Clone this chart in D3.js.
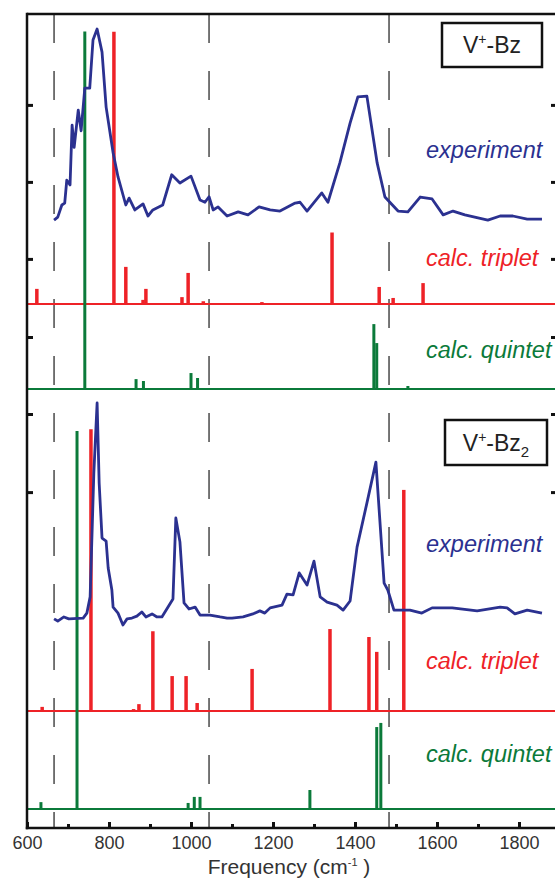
<!DOCTYPE html>
<html>
<head>
<meta charset="utf-8">
<script src="https://cdn.jsdelivr.net/npm/d3@7"></script>
<style>
  body { margin: 0; background: #fff; }
  svg { display: block; font-family: "Liberation Sans", Arial, sans-serif; }
</style>
</head>
<body>
<div class="gv-chart"></div>
<script>
// ---- data (frequency in cm-1, intensity in arbitrary units) ----
// V+-Bz
var bzExpFreq = [666,675,685,692,697,705,710,715,725,732,741,753,761,771,783,793,810,822,841,849,863,883,895,907,931,953,973,1000,1022,1034,1044,1054,1066,1088,1115,1139,1166,1193,1217,1254,1266,1283,1319,1334,1363,1388,1407,1429,1454,1473,1505,1529,1559,1588,1615,1639,1668,1724,1754,1785,1820,1856];
var bzExpInt  = [30.5,31.6,36,36.7,45,43.3,65,57,70.5,63,78.5,78.5,96,100,91.6,71.6,55,46.2,36,38.5,34.2,36.4,32,34.2,36,47,44,46.5,37.8,37,39,34.2,35.3,32,33.5,32.4,35.3,34.2,33.8,36.7,37,33.8,40.4,37,51.3,65.8,75.3,75.6,51.3,38.9,33.8,33.5,38.9,38.2,32.4,33.8,32.4,30.5,32,32,30.9,30.9];
var bzTripFreq = [624,812,841,883,890,978,993,1030,1173,1344,1459,1493,1566];
var bzTripInt  = [5.5,99,13.5,1.5,5.5,2.5,11.3,1,0.7,26,6.2,2.2,7.6];
var bzQuinFreq = [741,866,884,1000,1016,1446,1453,1529];
var bzQuinInt  = [130,3.6,2.9,5.8,4,23.6,16.7,1.1];

// V+-Bz2
var bz2ExpFreq = [666,675,690,702,737,746,754,763,771,776,783,793,798,807,810,822,834,844,856,868,880,890,905,917,929,944,956,963,973,983,995,1010,1022,1046,1071,1088,1100,1127,1151,1168,1180,1193,1222,1234,1249,1264,1283,1300,1315,1332,1356,1371,1388,1405,1429,1451,1471,1480,1495,1534,1563,1588,1637,1698,1754,1771,1790,1820,1856];
var bz2ExpInt  = [33.5,32.7,34.2,33.5,33.8,35.6,41.5,86.5,112,82.9,62.9,61.8,52,44,37.8,35.6,31.3,33.5,33.8,34.5,36,34.2,35.3,34.2,34.2,37.8,40.7,70.2,61.5,39.3,37.1,37.8,34.9,34.9,34.2,33.8,33.8,34.2,35.3,36.4,35.6,37.5,38.5,42.5,42.2,50.2,45.8,54.5,41.5,39.6,38.5,36.7,40,59.6,75.6,90.5,46.5,44,36.7,36.7,35.6,37.5,37.5,36.4,37.8,37.5,35.3,36.7,35.6];
var bz2TripFreq = [637,756,860,873,907,954,988,1015,1149,1339,1434,1453,1519];
var bz2TripInt  = [1.5,102.5,0.7,2.5,29,12.7,12.7,2.9,15.3,29.8,26.9,21.5,80.4];
var bz2QuinFreq = [634,722,993,1008,1022,1290,1453,1463];
var bz2QuinInt  = [2.5,137.5,2.2,4.4,4.4,6.9,29.8,31.3];

var xMajorTicks = [600,800,1000,1200,1400,1600,1800];
var xMinorTicks = [700,900,1100,1300,1500,1700];
var dashFreqs = [666,1044,1483];
var topYTicks = [16.4,44.4,72.4];
var lowYTicks = [79.6,108,136];

var blue = "#2b3190", red = "#ee2227", green = "#0b7a3a";

var width = 555, height = 879;
var plotTop = 14, plotBottom = 828, plotLeft = 27;

var x = d3.scaleLinear().domain([600, 1900]).range([plotLeft, plotLeft + 1300 * 0.41]);

function yAt(base) {
  return d3.scaleLinear().domain([0, 100]).range([base, base - 275]);
}
var yTopTrip = yAt(304), yTopQuin = yAt(389), yLowTrip = yAt(711), yLowQuin = yAt(809);

var svg = d3.select(".gv-chart").append("svg")
  .attr("width", width).attr("height", height);

// dashed reference lines
svg.selectAll(".gv-dash").data(dashFreqs).enter().append("line")
  .attr("class", "gv-dash")
  .attr("x1", function(d){ return x(d); }).attr("x2", function(d){ return x(d); })
  .attr("y1", plotTop).attr("y2", plotBottom)
  .attr("stroke", "#555").attr("stroke-width", 1.6)
  .attr("stroke-dasharray", "29,28");

function drawBaseline(scale, colour) {
  svg.append("line")
    .attr("x1", plotLeft).attr("x2", width + 5)
    .attr("y1", scale(0)).attr("y2", scale(0))
    .attr("stroke", colour).attr("stroke-width", 2.2);
}

function drawBars(freqs, ints, scale, colour, w) {
  var data = freqs.map(function(f, i){ return {f: f, v: ints[i]}; });
  svg.append("g").selectAll("line").data(data).enter().append("line")
    .attr("x1", function(d){ return x(d.f); }).attr("x2", function(d){ return x(d.f); })
    .attr("y1", function(){ return scale(0); })
    .attr("y2", function(d){ return scale(d.v); })
    .attr("stroke", colour).attr("stroke-width", w);
}

function drawExp(freqs, ints, scale) {
  var data = freqs.map(function(f, i){ return {f: f, v: ints[i]}; });
  var line = d3.line()
    .x(function(d){ return x(d.f); })
    .y(function(d){ return scale(d.v); });
  svg.append("path").datum(data)
    .attr("d", line)
    .attr("fill", "none").attr("stroke", blue)
    .attr("stroke-width", 2.8).attr("stroke-linejoin", "round");
}

drawBaseline(yTopTrip, red);
drawBaseline(yTopQuin, green);
drawBaseline(yLowTrip, red);
drawBaseline(yLowQuin, green);

drawBars(bzTripFreq, bzTripInt, yTopTrip, red, 3.5);
drawBars(bzQuinFreq, bzQuinInt, yTopQuin, green, 3);
drawBars(bz2TripFreq, bz2TripInt, yLowTrip, red, 3.5);
drawBars(bz2QuinFreq, bz2QuinInt, yLowQuin, green, 3);

drawExp(bzExpFreq, bzExpInt, yTopTrip);
drawExp(bz2ExpFreq, bz2ExpInt, yLowTrip);

// frame: top line
svg.append("line")
  .attr("x1", plotLeft).attr("x2", width + 5)
  .attr("y1", plotTop).attr("y2", plotTop)
  .attr("stroke", "#111").attr("stroke-width", 2.5);

// left / right axes with unlabeled ticks
function yAxisTicks(scale, vals) {
  svg.append("g")
    .attr("transform", "translate(" + plotLeft + ",0)")
    .call(d3.axisLeft(scale).tickValues(vals).tickSizeInner(-6).tickSizeOuter(0).tickFormat(""))
    .call(function(g){ g.select(".domain").remove(); })
    .selectAll("line").attr("stroke", "#111").attr("stroke-width", 3);
  svg.append("g")
    .attr("transform", "translate(" + (x(1900) - 2) + ",0)")
    .call(d3.axisRight(scale).tickValues(vals).tickSizeInner(-7).tickSizeOuter(0).tickFormat(""))
    .call(function(g){ g.select(".domain").remove(); })
    .selectAll("line").attr("stroke", "#111").attr("stroke-width", 3);
}
yAxisTicks(yTopTrip, topYTicks);
yAxisTicks(yLowTrip, lowYTicks);

svg.append("line")
  .attr("x1", plotLeft).attr("x2", plotLeft)
  .attr("y1", plotTop - 1.2).attr("y2", plotBottom + 1.2)
  .attr("stroke", "#111").attr("stroke-width", 2.5);

// bottom axis
var xAxisG = svg.append("g")
  .attr("transform", "translate(0," + plotBottom + ")")
  .call(d3.axisBottom(x).tickValues(xMajorTicks).tickSizeInner(-6).tickSizeOuter(0)
    .tickPadding(8).tickFormat(d3.format("d")));
xAxisG.select(".domain").remove();
xAxisG.selectAll("line").attr("stroke", "#111").attr("stroke-width", 3);
xAxisG.selectAll("text")
  .attr("font-size", 18).attr("fill", "#333")
  .attr("font-family", "'Liberation Sans', Arial, sans-serif");

var xMinorG = svg.append("g")
  .attr("transform", "translate(0," + plotBottom + ")")
  .call(d3.axisBottom(x).tickValues(xMinorTicks).tickSizeInner(-4).tickSizeOuter(0).tickFormat(""));
xMinorG.select(".domain").remove();
xMinorG.selectAll("line").attr("stroke", "#111").attr("stroke-width", 3);

svg.append("line")
  .attr("x1", plotLeft - 1.2).attr("x2", width + 5)
  .attr("y1", plotBottom).attr("y2", plotBottom)
  .attr("stroke", "#111").attr("stroke-width", 2.5);

// x title
var title = svg.append("text")
  .attr("x", 289).attr("y", 874)
  .attr("text-anchor", "middle")
  .attr("font-size", 21).attr("fill", "#333");
title.append("tspan").text("Frequency (cm");
title.append("tspan").attr("font-size", 11).attr("dy", -8).text("-1");
title.append("tspan").attr("dy", 8).text(" )");

// series labels
var labels = [
  {t: "experiment",    c: blue,  y: 158},
  {t: "calc. triplet", c: red,   y: 266},
  {t: "calc. quintet", c: green, y: 358},
  {t: "experiment",    c: blue,  y: 552},
  {t: "calc. triplet", c: red,   y: 669},
  {t: "calc. quintet", c: green, y: 762}
];
svg.selectAll(".gv-label").data(labels).enter().append("text")
  .attr("class", "gv-label")
  .attr("x", 426).attr("y", function(d){ return d.y; })
  .attr("font-size", 23.5).attr("font-style", "italic")
  .attr("fill", function(d){ return d.c; })
  .text(function(d){ return d.t; });

// molecule boxes
function moleculeBox(x0, y0, w, h, sub) {
  svg.append("rect")
    .attr("x", x0).attr("y", y0).attr("width", w).attr("height", h)
    .attr("fill", "#fff").attr("stroke", "#111").attr("stroke-width", 2.5);
  var t = svg.append("text")
    .attr("x", x0 + w / 2).attr("y", y0 + h / 2 + 8)
    .attr("text-anchor", "middle")
    .attr("font-size", 23).attr("fill", "#222");
  t.append("tspan").text("V");
  t.append("tspan").attr("font-size", 14).attr("dy", -9).text("+");
  t.append("tspan").attr("dy", 9).text("-Bz");
  if (sub) t.append("tspan").attr("font-size", 15).attr("dy", 6).text(sub);
}
moleculeBox(442, 23, 100, 44, null);
moleculeBox(445, 420, 102, 45, "2");
</script>
</body>
</html>
